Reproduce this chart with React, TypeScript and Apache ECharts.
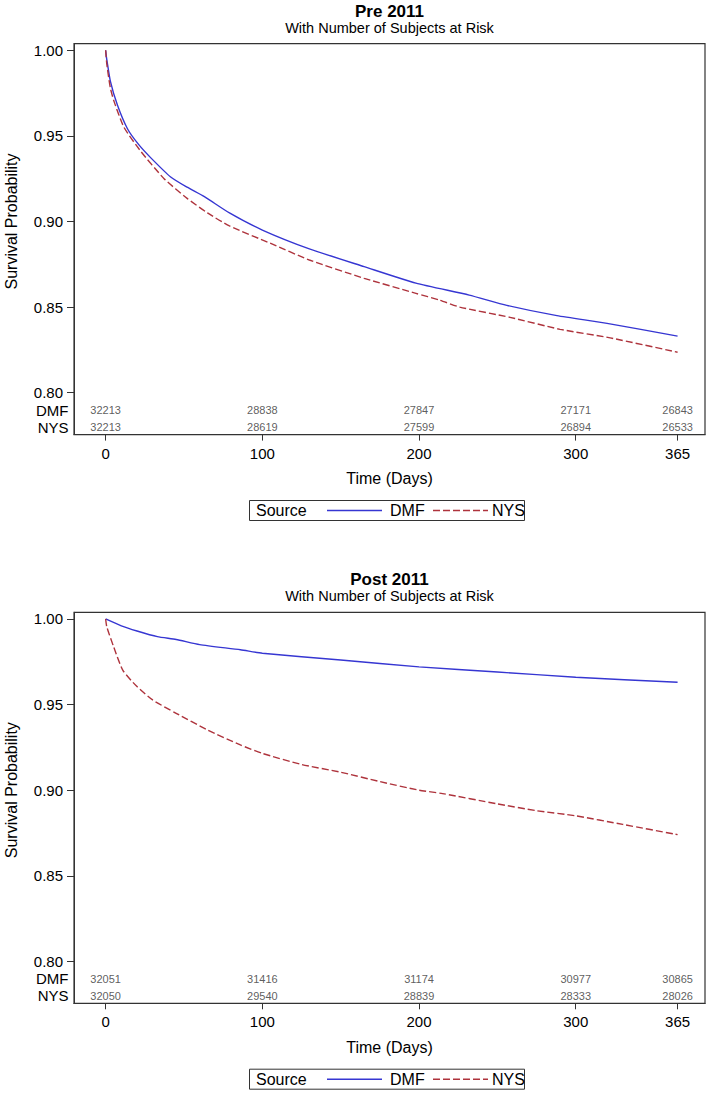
import React, { useEffect, useRef } from "react";
import * as echarts from "echarts";

// ---------- data ----------
const timeTicks = [0, 100, 200, 300, 365];
const survTicks = [0.8, 0.85, 0.9, 0.95, 1.0];
const riskTimes = [0, 100, 200, 300, 365];

// Pre 2011
const preDmfTime = [0, 0.5, 1, 3, 7.5, 14, 21, 29, 41.5, 52, 63, 79, 100, 130, 165, 198, 232, 256, 288, 320, 365];
const preDmfSurv = [1.0, 0.996, 0.993, 0.982, 0.968, 0.954, 0.945, 0.937, 0.926, 0.92, 0.9145, 0.905, 0.895, 0.884, 0.8736, 0.864, 0.857, 0.851, 0.845, 0.8405, 0.833];
const preNysTime = [0, 0.5, 1, 3, 5.4, 11.7, 22.4, 37.3, 52, 65, 79, 105, 130, 165, 198, 213, 226, 258, 290, 322, 365];
const preNysSurv = [1.0, 0.994, 0.99, 0.978, 0.97, 0.955, 0.941, 0.925, 0.9135, 0.905, 0.8974, 0.8873, 0.8775, 0.8668, 0.858, 0.8541, 0.85, 0.844, 0.837, 0.832, 0.8236];
const preRiskDmf = [32213, 28838, 27847, 27171, 26843];
const preRiskNys = [32213, 28619, 27599, 26894, 26533];

// Post 2011
const postDmfTime = [0, 10, 20, 33, 45, 60, 86, 100, 150, 200, 250, 300, 365];
const postDmfSurv = [1.0, 0.996, 0.993, 0.9897, 0.988, 0.985, 0.982, 0.98, 0.976, 0.972, 0.969, 0.966, 0.963];
const postNysTime = [0, 0.7, 5, 11, 20, 30, 45, 65, 86, 100, 125, 150, 175, 200, 215, 250, 275, 300, 330, 365];
const postNysSurv = [1.0, 0.9955, 0.984, 0.97, 0.9605, 0.9527, 0.9449, 0.9352, 0.9264, 0.9215, 0.915, 0.9105, 0.905, 0.9, 0.898, 0.892, 0.888, 0.885, 0.88, 0.874];
const postRiskDmf = [32051, 31416, 31174, 30977, 30865];
const postRiskNys = [32050, 29540, 28839, 28333, 28026];

const panelTitles = ["Pre 2011", "Post 2011"];
const subTitle = "With Number of Subjects at Risk";
const groups = ["DMF", "NYS"];

// ---------- styling / layout ----------
const FONT = "'Liberation Sans', Arial, Helvetica, sans-serif";
const BLUE = "#3636D2";
const RED = "#AE333C";
const AXIS = "#333333";
const OFFSET = 568.7;
const FRAME_L = 74;
const FRAME_R = 705;
const FRAME_TOP = 43.6;
const FRAME_H = 391;
const X_MIN = -20.2;
const X_MAX = 382.5;
const Y_MIN = 0.7755;
const Y_MAX = 1.0039;
const ROW_DMF = 0.7897;
const ROW_NYS = 0.7798;

const zip = (a: number[], b: number[]) => a.map((v, i) => [v, b[i]]);

function buildOption() {
  const panels = [
    { dmf: zip(preDmfTime, preDmfSurv), nys: zip(preNysTime, preNysSurv), rd: preRiskDmf, rn: preRiskNys },
    { dmf: zip(postDmfTime, postDmfSurv), nys: zip(postNysTime, postNysSurv), rd: postRiskDmf, rn: postRiskNys },
  ];
  const grid: any[] = [];
  const xAxis: any[] = [];
  const yAxis: any[] = [];
  const series: any[] = [];
  const graphic: any[] = [];
  const cx = (FRAME_L + FRAME_R) / 2;
  const pxPerUnit = FRAME_H / (Y_MAX - Y_MIN);
  const yPx = (v: number, off: number) => FRAME_TOP + off + (Y_MAX - v) * pxPerUnit;

  panels.forEach((p, i) => {
    const off = i * OFFSET;
    grid.push({
      left: FRAME_L,
      top: FRAME_TOP + off,
      width: FRAME_R - FRAME_L,
      height: FRAME_H,
    });
    xAxis.push({
      gridIndex: i,
      type: "value",
      min: X_MIN,
      max: X_MAX,
      axisLine: { show: true, onZero: false, lineStyle: { color: AXIS } },
      splitLine: { show: false },
      axisTick: { show: true, length: 6, customValues: timeTicks, lineStyle: { color: AXIS } },
      axisLabel: { customValues: timeTicks, margin: 11, fontSize: 15, color: "#000", fontFamily: FONT },
      name: "Time (Days)",
      nameLocation: "middle",
      nameGap: 36,
      nameTextStyle: { fontSize: 16, color: "#000", fontFamily: FONT },
    });
    yAxis.push({
      gridIndex: i,
      type: "value",
      min: Y_MIN,
      max: Y_MAX,
      axisLine: { show: true, onZero: false, lineStyle: { color: AXIS } },
      splitLine: { show: false },
      axisTick: { show: true, length: 7, customValues: survTicks, lineStyle: { color: AXIS } },
      axisLabel: {
        customValues: survTicks,
        formatter: (v: number) => v.toFixed(2),
        margin: 11,
        fontSize: 15,
        color: "#000",
        fontFamily: FONT,
      },
    });
    series.push({
      name: groups[0],
      type: "line",
      xAxisIndex: i,
      yAxisIndex: i,
      data: p.dmf,
      symbol: "none",
      smooth: 0.2,
      lineStyle: { color: BLUE, width: 1.4 },
      itemStyle: { color: BLUE },
    });
    series.push({
      name: groups[1],
      type: "line",
      xAxisIndex: i,
      yAxisIndex: i,
      data: p.nys,
      symbol: "none",
      smooth: 0.2,
      lineStyle: { color: RED, width: 1.4, type: [7, 3] },
      itemStyle: { color: RED },
    });
    [
      { vals: p.rd, row: ROW_DMF },
      { vals: p.rn, row: ROW_NYS },
    ].forEach((r) => {
      series.push({
        type: "scatter",
        xAxisIndex: i,
        yAxisIndex: i,
        symbolSize: 1,
        itemStyle: { color: "rgba(0,0,0,0)" },
        silent: true,
        data: riskTimes.map((t, k) => [t, r.row, r.vals[k]]),
        label: {
          show: true,
          position: "inside",
          formatter: (pp: any) => String(pp.value[2]),
          fontSize: 11,
          color: "#333",
          fontFamily: FONT,
        },
      });
    });

    // plot frame
    graphic.push({
      type: "rect",
      silent: true,
      shape: { x: FRAME_L, y: FRAME_TOP + off, width: FRAME_R - FRAME_L, height: FRAME_H },
      style: { fill: "none", stroke: AXIS, lineWidth: 1.2 },
    });
    // titles
    graphic.push({
      type: "text",
      x: cx,
      y: 11 + off,
      style: { text: panelTitles[i], font: `bold 17px ${FONT}`, fill: "#000", align: "center", verticalAlign: "middle" },
    });
    graphic.push({
      type: "text",
      x: cx,
      y: 27.5 + off,
      style: { text: subTitle, font: `14.5px ${FONT}`, fill: "#000", align: "center", verticalAlign: "middle" },
    });
    // y axis title centred on the 0.80-1.00 range
    graphic.push({
      type: "text",
      x: 11,
      y: (yPx(0.8, off) + yPx(1.0, off)) / 2,
      rotation: Math.PI / 2,
      style: { text: "Survival Probability", font: `16px ${FONT}`, fill: "#000", align: "center", verticalAlign: "middle" },
    });
    // risk table row labels
    [
      { t: groups[0], row: ROW_DMF },
      { t: groups[1], row: ROW_NYS },
    ].forEach((r) => {
      graphic.push({
        type: "text",
        x: 68.5,
        y: yPx(r.row, off),
        style: { text: r.t, font: `15px ${FONT}`, fill: "#000", align: "right", verticalAlign: "middle" },
      });
    });
    // legend box
    const ly = 510.5 + off;
    graphic.push({
      type: "rect",
      shape: { x: 249.5, y: ly - 10, width: 275, height: 20 },
      style: { fill: "none", stroke: AXIS, lineWidth: 1 },
    });
    graphic.push({
      type: "text",
      x: 256,
      y: ly,
      style: { text: "Source", font: `16px ${FONT}`, fill: "#000", align: "left", verticalAlign: "middle" },
    });
    graphic.push({
      type: "line",
      shape: { x1: 327, y1: ly, x2: 382, y2: ly },
      style: { stroke: BLUE, lineWidth: 1.4 },
    });
    graphic.push({
      type: "text",
      x: 390,
      y: ly,
      style: { text: groups[0], font: `16px ${FONT}`, fill: "#000", align: "left", verticalAlign: "middle" },
    });
    graphic.push({
      type: "line",
      shape: { x1: 433, y1: ly, x2: 488, y2: ly },
      style: { stroke: RED, lineWidth: 1.4, lineDash: [7, 3] },
    });
    graphic.push({
      type: "text",
      x: 492,
      y: ly,
      style: { text: groups[1], font: `16px ${FONT}`, fill: "#000", align: "left", verticalAlign: "middle" },
    });
  });

  return {
    animation: false,
    backgroundColor: "#fff",
    textStyle: { fontFamily: FONT },
    grid,
    xAxis,
    yAxis,
    series,
    graphic,
  };
}

export default function App() {
  const ref = useRef<HTMLDivElement>(null);
  useEffect(() => {
    if (!ref.current) return;
    const chart = echarts.init(ref.current, undefined, { renderer: "svg" });
    chart.setOption(buildOption() as any);
    return () => chart.dispose();
  }, []);
  return (
    <div
      ref={ref}
      style={{ position: "absolute", left: 0, top: 0, width: 709, height: 1094, background: "#fff" }}
    />
  );
}
